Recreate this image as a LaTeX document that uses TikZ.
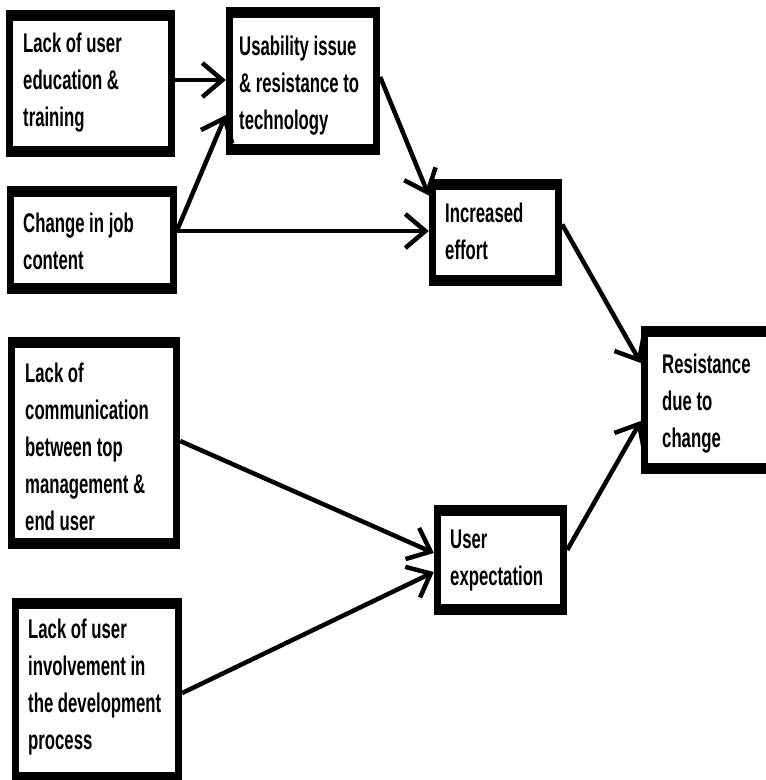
\documentclass[tikz,border=0pt]{standalone}
\usepackage{fontspec}
\usetikzlibrary{arrows.meta}
\newfontfamily\boxfont[FakeStretch=0.62]{Liberation Sans}
\newcommand{\boxtext}[1]{\parbox[t]{300pt}{\boxfont\bfseries\fontsize{27}{37}\selectfont\raggedright #1}}
\tikzset{
  frame/.style={fill=black, draw=none, inner sep=0pt},
  label text/.style={anchor=base west, inner sep=0pt},
  conn/.style={line width=4.5pt,
    -{Straight Barb[length=20pt,width=34pt,line width=4.5pt]}},
}
\begin{document}
\begin{tikzpicture}[x=1pt,y=-1pt]
\clip (0,0) rectangle (766,780);
\fill[white] (0,0) rectangle (766,780);

% outer frames of the boxes
\node[frame, minimum width=169pt, minimum height=147pt] (A) at (90.5,83.5) {};
\node[frame, minimum width=154pt, minimum height=148pt] (B) at (303,81) {};
\node[frame, minimum width=170pt, minimum height=108pt] (C) at (92,240) {};
\node[frame, minimum width=133pt, minimum height=107pt] (D) at (495.5,232.5) {};
\node[frame, minimum width=136pt, minimum height=148pt] (E) at (709,400) {};
\node[frame, minimum width=172pt, minimum height=212pt] (F) at (94,443) {};
\node[frame, minimum width=133pt, minimum height=110pt] (G) at (500.5,560) {};
\node[frame, minimum width=170pt, minimum height=185pt] (H) at (97,690.5) {};

% white interiors: thin side borders, heavy top and bottom borders
\foreach \b in {A,B,C,D,E,F,G,H}
  \fill[white] ([xshift=7pt,yshift=-11pt]\b.north west)
     rectangle ([xshift=-7pt,yshift=11pt]\b.south east);

% box texts
\node[label text] (tA) at (23,52)  {\boxtext{Lack of user\\education \&\\training}};
\node[label text] (tB) at (239,55) {\boxtext{Usability issue\\\& resistance to\\technology}};
\node[label text] (tC) at (23,232) {\boxtext{Change in job\\content}};
\node[label text] (tD) at (445,222) {\boxtext{Increased\\effort}};
\node[label text] (tE) at (662,373) {\boxtext{Resistance\\due to\\change}};
\node[label text] (tF) at (25,382) {\boxtext{Lack of\\communication\\between top\\management \&\\end user}};
\node[label text] (tG) at (450,548) {\boxtext{User\\expectation}};
\node[label text] (tH) at (28,638) {\boxtext{Lack of user\\involvement in\\the development\\process}};

% connectors
\draw[conn] ([yshift=3.5pt]A.east) -- ([yshift=1pt]B.west);
\draw[conn] ([yshift=10pt]C.east) -- ([yshift=-34pt]B.west);
\draw[conn] ([yshift=9pt]C.east) -- ([yshift=1.5pt]D.west);
\draw[conn] ([yshift=4pt]B.east) -- ([yshift=37pt]D.west);
\draw[conn] ([yshift=8pt]D.east) -- ([yshift=37pt]E.west);
\draw[conn] ([yshift=10pt]G.east) -- ([yshift=-21pt]E.west);
\draw[conn] ([yshift=2pt]F.east) -- ([yshift=7pt]G.west);
\draw[conn] ([yshift=-2.5pt]H.east) -- ([yshift=-12pt]G.west);
\end{tikzpicture}
\end{document}
